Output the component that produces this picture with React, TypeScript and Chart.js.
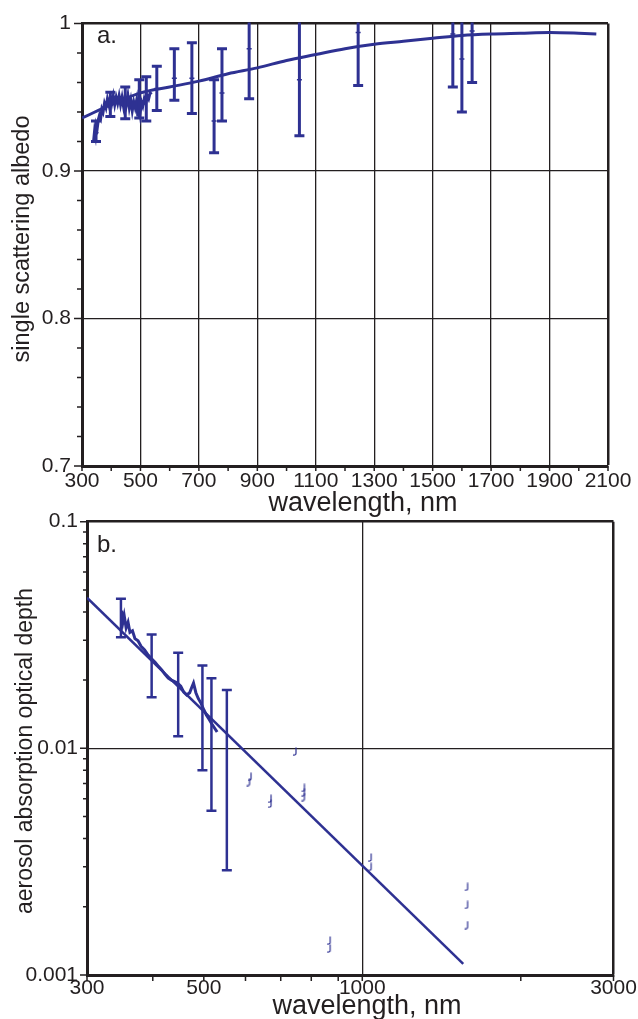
import React, { useEffect, useRef } from 'react';
import { Chart, registerables } from 'chart.js';

Chart.register(...registerables);

const NAVY = '#2E3192';
const INK = '#231F20';
const FONT = '"Liberation Sans", Arial, Helvetica, sans-serif';

// ---------------- panel a: single scattering albedo ----------------
const fitAWl = [300, 400, 500, 600, 700, 800, 900, 1000, 1100, 1200, 1300, 1400, 1500, 1600, 1700, 1800, 1900, 2000, 2060];
const fitAVal = [0.936, 0.945, 0.953, 0.957, 0.961, 0.966, 0.970, 0.975, 0.979, 0.983, 0.986, 0.988, 0.990, 0.992, 0.993, 0.9935, 0.994, 0.9935, 0.993];

const specAWl = [340, 343, 346, 349, 352, 356, 360, 364, 368, 372, 377, 382, 387, 392, 397, 402, 407, 412, 417, 422, 427, 432, 437, 442, 447, 452, 457, 462, 467, 472, 477, 482, 487, 491, 495, 499, 503, 508, 513, 518, 523, 528, 533, 538];
const specAVal = [0.921, 0.927, 0.924, 0.931, 0.929, 0.935, 0.938, 0.936, 0.942, 0.940, 0.946, 0.943, 0.949, 0.945, 0.950, 0.946, 0.951, 0.945, 0.950, 0.946, 0.951, 0.945, 0.950, 0.944, 0.950, 0.945, 0.951, 0.943, 0.948, 0.941, 0.947, 0.943, 0.948, 0.937, 0.945, 0.939, 0.947, 0.944, 0.949, 0.946, 0.951, 0.949, 0.953, 0.952];

const ebAWl = [348, 397, 448, 496, 520, 556, 616, 676, 752, 779, 872, 1044, 1245, 1569, 1600, 1635];
const ebALo = [0.920, 0.937, 0.9355, 0.936, 0.934, 0.941, 0.948, 0.939, 0.9125, 0.934, 0.949, 0.924, 0.958, 0.957, 0.940, 0.960];
const ebAHi = [0.934, 0.9535, 0.957, 0.962, 0.964, 0.971, 0.983, 0.987, 0.962, 0.983, 1.01, 1.01, 1.01, 1.01, 1.01, 1.01];
const ebAMid = [0.926, 0.945, 0.946, 0.949, 0.949, 0.956, 0.963, 0.963, 0.934, 0.953, 0.983, 0.962, 0.994, 0.993, 0.976, 0.995];

const aXTicks = [300, 400, 500, 600, 700, 800, 900, 1000, 1100, 1200, 1300, 1400, 1500, 1600, 1700, 1800, 1900, 2000, 2100];
const aXLabels = [300, 500, 700, 900, 1100, 1300, 1500, 1700, 1900, 2100];
const aYTicks = [0.7, 0.72, 0.74, 0.76, 0.78, 0.8, 0.82, 0.84, 0.86, 0.88, 0.9, 0.92, 0.94, 0.96, 0.98, 1.0];
const aYLabels = [0.7, 0.8, 0.9, 1.0];

// ---------------- panel b: aerosol absorption optical depth ----------------
const fitBWl = [300, 1555];
const fitBVal = [0.0462, 0.00112];

const specBWl = [349, 351, 353, 356, 359, 362, 366, 370, 375, 380, 386, 392, 398, 404, 410, 416, 422, 428, 434, 440, 446, 452, 458, 464, 470, 474, 478, 483, 488, 494, 500, 506, 512, 518, 524, 530];
const specBVal = [0.0405, 0.0360, 0.0385, 0.0340, 0.0360, 0.0325, 0.0330, 0.0305, 0.0298, 0.0282, 0.0272, 0.0258, 0.0248, 0.0240, 0.0230, 0.0222, 0.0212, 0.0204, 0.0200, 0.0197, 0.0194, 0.0188, 0.0177, 0.0172, 0.0176, 0.0185, 0.0194, 0.0176, 0.0166, 0.0158, 0.0148, 0.0140, 0.0134, 0.0128, 0.0123, 0.0118];

const ebBWl = [348, 398, 447, 497, 517, 553];
const ebBLo = [0.0309, 0.0168, 0.0113, 0.0080, 0.0053, 0.0029];
const ebBHi = [0.0457, 0.0318, 0.0264, 0.0232, 0.0204, 0.0181];

const dotsBWl = [745, 612, 608, 668, 668, 773, 773, 773, 1035, 1035, 1578, 1578, 1578, 865, 865];
const dotsBVal = [0.0097, 0.0075, 0.0071, 0.0060, 0.0057, 0.0067, 0.0064, 0.0061, 0.0033, 0.0030, 0.00245, 0.00204, 0.00166, 0.00142, 0.00131];

const bXTicks = [300, 400, 500, 600, 700, 800, 900, 1000, 2000, 3000];
const bXLabels = [300, 500, 1000, 3000];
const bYTicks = [0.001, 0.002, 0.003, 0.004, 0.005, 0.006, 0.007, 0.008, 0.009, 0.01, 0.02, 0.03, 0.04, 0.05, 0.06, 0.07, 0.08, 0.09, 0.1];
const bYLabels = [0.001, 0.01, 0.1];

const near = (a: number, list: number[]) => list.some((v) => Math.abs(v - a) < 1e-9);
const pts = (xs: number[], ys: number[]) => xs.map((x, i) => ({ x, y: ys[i] }));

function tickPlugin(xTicks: number[], xMajor: number[], xLen: [number, number], yTicks: number[], yMajor: number[], yLen: [number, number]) {
  return {
    id: 'tickMarks',
    afterDraw(chart: any) {
      const { ctx, chartArea: a, scales } = chart;
      ctx.save();
      ctx.strokeStyle = INK;
      ctx.lineWidth = 1.5;
      ctx.beginPath();
      for (const v of xTicks) {
        const px = scales.x.getPixelForValue(v);
        const len = near(v, xMajor) ? xLen[0] : xLen[1];
        ctx.moveTo(px, a.bottom);
        ctx.lineTo(px, a.bottom + len);
      }
      for (const v of yTicks) {
        const py = scales.y.getPixelForValue(v);
        const len = near(v, yMajor) ? yLen[0] : yLen[1];
        ctx.moveTo(a.left, py);
        ctx.lineTo(a.left - len, py);
      }
      ctx.stroke();
      ctx.restore();
    },
  };
}

function errorBarPlugin(wl: number[], lo: number[], hi: number[], lw: number, capW: number) {
  return {
    id: 'errorBars',
    afterDatasetsDraw(chart: any) {
      const { ctx, chartArea: a, scales } = chart;
      ctx.save();
      ctx.beginPath();
      ctx.rect(a.left, a.top - 1, a.right - a.left, a.bottom - a.top + 2);
      ctx.clip();
      ctx.strokeStyle = NAVY;
      ctx.lineWidth = lw;
      ctx.lineCap = 'butt';
      wl.forEach((w, i) => {
        const px = scales.x.getPixelForValue(w);
        const p1 = scales.y.getPixelForValue(lo[i]);
        const p2 = scales.y.getPixelForValue(hi[i]);
        ctx.beginPath();
        ctx.moveTo(px, p1);
        ctx.lineTo(px, p2);
        ctx.moveTo(px - capW / 2, p1);
        ctx.lineTo(px + capW / 2, p1);
        ctx.moveTo(px - capW / 2, p2);
        ctx.lineTo(px + capW / 2, p2);
        ctx.stroke();
      });
      ctx.restore();
    },
  };
}

type TextItem = { text: string; x: number; y: number; size: number; align: CanvasTextAlign; rot?: number };
function textPlugin(items: TextItem[]) {
  return {
    id: 'texts',
    afterDraw(chart: any) {
      const ctx = chart.ctx;
      for (const it of items) {
        ctx.save();
        ctx.font = `${it.size}px ${FONT}`;
        ctx.fillStyle = INK;
        ctx.textAlign = it.align;
        ctx.textBaseline = 'alphabetic';
        ctx.translate(it.x, it.y);
        if (it.rot) ctx.rotate(it.rot);
        ctx.fillText(it.text, 0, 0);
        ctx.restore();
      }
    },
  };
}

function makeJ(): HTMLCanvasElement {
  const c = document.createElement('canvas');
  c.width = 6;
  c.height = 9;
  const g = c.getContext('2d')!;
  g.strokeStyle = NAVY;
  g.lineWidth = 1.2;
  g.beginPath();
  g.moveTo(4, 0.5);
  g.lineTo(4, 6.5);
  g.quadraticCurveTo(4, 8.4, 1, 8);
  g.stroke();
  return c;
}

const tickFont = { family: FONT, size: 21 };

export default function App() {
  const refA = useRef<HTMLCanvasElement | null>(null);
  const refB = useRef<HTMLCanvasElement | null>(null);

  useEffect(() => {
    const chartA = new Chart(refA.current!, {
      type: 'scatter',
      data: {
        datasets: [
          { data: pts(fitAWl, fitAVal), showLine: true, borderColor: NAVY, borderWidth: 3, pointRadius: 0, cubicInterpolationMode: 'monotone' },
          { data: pts(specAWl, specAVal), showLine: true, borderColor: NAVY, borderWidth: 3, pointRadius: 0, tension: 0 },
          { data: pts(ebAWl, ebAMid), showLine: false, pointStyle: 'line', pointRadius: 2.5, borderColor: NAVY, borderWidth: 1.5 },
        ],
      } as any,
      options: {
        responsive: false,
        maintainAspectRatio: false,
        animation: false,
        events: [],
        layout: { padding: { left: 0, right: 30, top: 18, bottom: 0 } },
        plugins: { legend: { display: false }, tooltip: { enabled: false } },
        scales: {
          x: {
            type: 'linear',
            min: 300,
            max: 2100,
            afterBuildTicks: (s: any) => { s.ticks = aXTicks.map((v) => ({ value: v })); },
            afterFit: (s: any) => { s.height = 54; },
            ticks: {
              autoSkip: false, maxRotation: 0, minRotation: 0, padding: 3, color: INK, font: tickFont,
              callback: (v: any) => (near(Number(v), aXLabels) ? String(v) : ''),
            },
            grid: {
              drawTicks: false,
              color: (c: any) => (c.tick && near(c.tick.value, aXLabels) ? INK : 'rgba(0,0,0,0)'),
              lineWidth: (c: any) => (c.tick && c.tick.value === 2100 ? 2.5 : 1.3),
            },
            border: { display: true, color: INK, width: 3 },
          },
          y: {
            type: 'linear',
            min: 0.7,
            max: 1.0,
            afterBuildTicks: (s: any) => { s.ticks = aYTicks.map((v) => ({ value: v })); },
            afterFit: (s: any) => { s.width = 82; },
            ticks: {
              autoSkip: false, padding: 11, color: INK, font: tickFont,
              callback: (v: any) => (near(Number(v), aYLabels) ? String(Math.round(Number(v) * 10) / 10) : ''),
            },
            grid: {
              drawTicks: false,
              color: (c: any) => (c.tick && near(c.tick.value, [0.8, 0.9, 1.0]) ? INK : 'rgba(0,0,0,0)'),
              lineWidth: (c: any) => (c.tick && Math.abs(c.tick.value - 1) < 1e-9 ? 2.5 : 1.3),
            },
            border: { display: true, color: INK, width: 3 },
          },
        },
      } as any,
      plugins: [
        errorBarPlugin(ebAWl, ebALo, ebAHi, 3, 10),
        tickPlugin(aXTicks, aXLabels, [5, 5], aYTicks, aYLabels, [8, 5]),
        textPlugin([
          { text: 'a.', x: 97, y: 43, size: 24, align: 'left' },
          { text: 'wavelength, nm', x: 363, y: 511, size: 27, align: 'center' },
          { text: 'single scattering albedo', x: 29, y: 239, size: 23.5, align: 'center', rot: -Math.PI / 2 },
        ]),
      ] as any,
    });

    const jImg = makeJ();
    const chartB = new Chart(refB.current!, {
      type: 'scatter',
      data: {
        datasets: [
          { data: pts(fitBWl, fitBVal), showLine: true, borderColor: NAVY, borderWidth: 2.5, pointRadius: 0, tension: 0 },
          { data: pts(specBWl, specBVal), showLine: true, borderColor: NAVY, borderWidth: 3, pointRadius: 0, tension: 0 },
          { data: pts(dotsBWl, dotsBVal), showLine: false, pointStyle: jImg, pointRadius: 4, borderColor: NAVY, backgroundColor: NAVY },
        ],
      } as any,
      options: {
        responsive: false,
        maintainAspectRatio: false,
        animation: false,
        events: [],
        layout: { padding: { left: 0, right: 24.5, top: 31.7, bottom: 0 } },
        plugins: { legend: { display: false }, tooltip: { enabled: false } },
        scales: {
          x: {
            type: 'logarithmic',
            min: 300,
            max: 3000,
            afterBuildTicks: (s: any) => { s.ticks = bXTicks.map((v) => ({ value: v })); },
            afterFit: (s: any) => { s.height = 44; },
            ticks: {
              autoSkip: false, maxRotation: 0, minRotation: 0, padding: 1, color: INK, font: tickFont,
              callback: (v: any) => (near(Number(v), bXLabels) ? String(v) : ''),
            },
            grid: {
              drawTicks: false,
              color: (c: any) => (c.tick && (c.tick.value === 1000 || c.tick.value === 3000) ? INK : 'rgba(0,0,0,0)'),
              lineWidth: (c: any) => (c.tick && c.tick.value === 3000 ? 2.5 : 1.3),
            },
            border: { display: true, color: INK, width: 3 },
          },
          y: {
            type: 'logarithmic',
            min: 0.001,
            max: 0.1,
            afterBuildTicks: (s: any) => { s.ticks = bYTicks.map((v) => ({ value: v })); },
            afterFit: (s: any) => { s.width = 87; },
            ticks: {
              autoSkip: false, padding: 9, color: INK, font: tickFont,
              callback: (v: any) => (near(Number(v), bYLabels) ? String(v) : ''),
            },
            grid: {
              drawTicks: false,
              color: (c: any) => (c.tick && near(c.tick.value, [0.01, 0.1]) ? INK : 'rgba(0,0,0,0)'),
              lineWidth: (c: any) => (c.tick && near(c.tick.value, [0.1]) ? 2.5 : 1.3),
            },
            border: { display: true, color: INK, width: 3 },
          },
        },
      } as any,
      plugins: [
        errorBarPlugin(ebBWl, ebBLo, ebBHi, 2.5, 10),
        tickPlugin(bXTicks, bXLabels, [6, 6], bYTicks, bYLabels, [7, 4]),
        textPlugin([
          { text: 'b.', x: 97, y: 62, size: 24, align: 'left' },
          { text: 'wavelength, nm', x: 367, y: 524, size: 27, align: 'center' },
          { text: 'aerosol absorption optical depth', x: 32, y: 261, size: 23, align: 'center', rot: -Math.PI / 2 },
        ]),
      ] as any,
    });

    return () => {
      chartA.destroy();
      chartB.destroy();
    };
  }, []);

  return (
    <div style={{ position: 'absolute', left: 0, top: 0, width: 638, height: 1019, background: '#fff', overflow: 'hidden' }}>
      <canvas ref={refA} width={638} height={520} style={{ position: 'absolute', left: 0, top: 0, width: 638, height: 520 }} />
      <canvas ref={refB} width={638} height={529} style={{ position: 'absolute', left: 0, top: 490, width: 638, height: 529 }} />
    </div>
  );
}
